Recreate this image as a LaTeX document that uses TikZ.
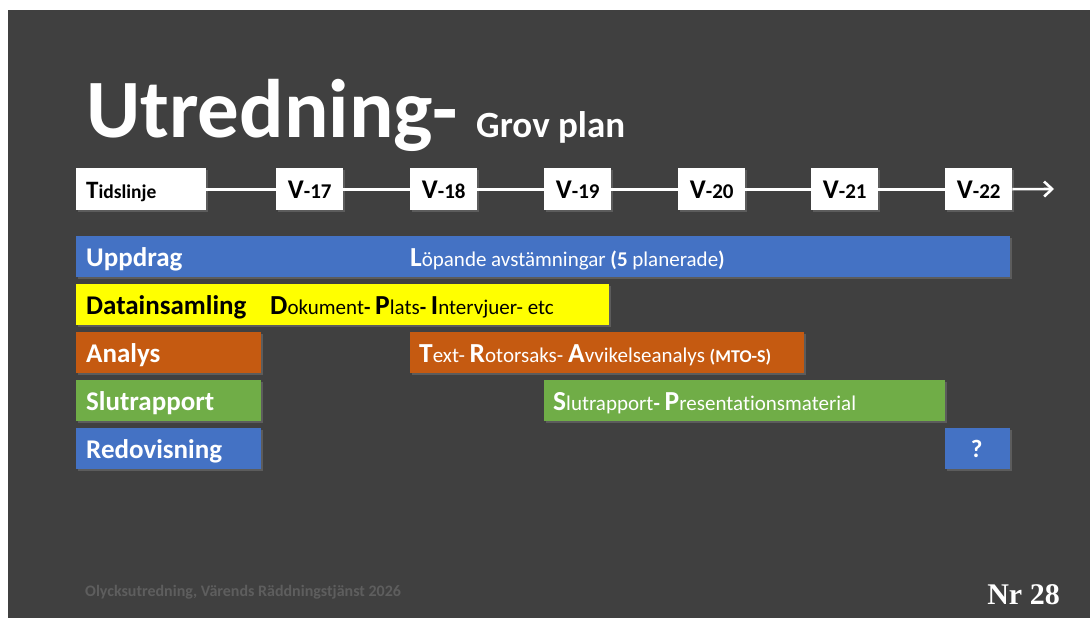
\documentclass[tikz,border=0pt]{standalone}
\usepackage{fontspec}
\setmainfont[Ligatures=NoCommon]{Carlito}
\newfontfamily\nrfont{Liberation Serif}
\usetikzlibrary{arrows.meta,shadows}
\definecolor{bgdark}{HTML}{404040}
\definecolor{barblue}{HTML}{4472C4}
\definecolor{baryellow}{HTML}{FFFF00}
\definecolor{barorange}{HTML}{C55A11}
\definecolor{bargreen}{HTML}{70AD47}
\definecolor{footgray}{HTML}{5E5E5E}
\tikzset{
  bar/.style={draw=none, inner sep=0pt, anchor=north west, minimum height=41pt,
    drop shadow={shadow xshift=1.5pt, shadow yshift=-1.5pt, opacity=0.45}},
  tbox/.style={fill=white, inner sep=0pt, anchor=north west, minimum height=42pt,
    drop shadow={shadow xshift=1.5pt, shadow yshift=-1.5pt, opacity=0.45}},
  lbl/.style={anchor=base west, inner sep=0pt, font=\bfseries\fontsize{27}{30}\selectfont},
  btxt/.style={anchor=base west, inner sep=0pt, font=\fontsize{21}{24}\selectfont},
  tl/.style={white, line width=2.6pt},
}
\newcommand{\bigL}[1]{{\bfseries\fontsize{27.5}{30}\selectfont #1}}
\begin{document}
\begin{tikzpicture}[x=1pt,y=-1pt]
\useasboundingbox (0,0) rectangle (1090,618);
\fill[white] (0,0) rectangle (1090,618);
\fill[bgdark] (8,10) rectangle (1090,618);
% title
\node[anchor=base west, inner sep=0pt, white, font=\bfseries\fontsize{83}{90}\selectfont] (title) at (86,137) {Utredning-};
\node[anchor=base west, inner sep=0pt, white, font=\bfseries\fontsize{37}{42}\selectfont] (sub) at (476,137) {Grov plan};
% timeline boxes
\node[tbox, minimum width=130pt] (tls) at (76,168) {};
\node[anchor=base west, inner sep=0pt, font=\bfseries\fontsize{19.5}{22}\selectfont] (tlt) at (86,198) {{\fontsize{25}{27}\selectfont T}idslinje};
\foreach \n/\x/\w in {17/276/67,18/410/67,19/544/67,20/678/67,21/811/67,22/945/67}{
  \node[tbox, minimum width=\w pt] (v\n) at (\x,168) {};
  \node[font=\bfseries, inner sep=0pt, anchor=base] (v\n t) at ([yshift=-9pt]v\n.center) {{\fontsize{27}{29}\selectfont V}{\fontsize{21}{23}\selectfont -\n}};
}
\coordinate (tend) at (1054,189);
\draw[tl] (tls.east) -- (v17.west);
\draw[tl] (v17.east) -- (v18.west);
\draw[tl] (v18.east) -- (v19.west);
\draw[tl] (v19.east) -- (v20.west);
\draw[tl] (v20.east) -- (v21.west);
\draw[tl] (v21.east) -- (v22.west);
\draw[tl, -{Straight Barb[length=8pt,width=15pt,line width=2.6pt]}] (v22.east) -- (tend);
% bars
\node[bar, fill=barblue, minimum width=934pt] (upp) at (76,236) {};
\node[bar, fill=baryellow, minimum width=533pt] (dat) at (76,284) {};
\node[bar, fill=barorange, minimum width=185pt] (ana) at (76,332) {};
\node[bar, fill=barorange, minimum width=394pt] (anab) at (410,332) {};
\node[bar, fill=bargreen, minimum width=185pt] (slu) at (76,380) {};
\node[bar, fill=bargreen, minimum width=401pt] (slub) at (544,380) {};
\node[bar, fill=barblue, minimum width=185pt] (red) at (76,428) {};
\node[bar, fill=barblue, minimum width=65pt] (redq) at (945,428) {};
% labels
\node[lbl, white] (uppl) at (86,266) {Uppdrag};
\node[lbl, black] (datl) at (86,314) {Datainsamling};
\node[lbl, white] (anal) at (86,362) {Analys};
\node[lbl, white] (slul) at (86,410) {Slutrapport};
\node[lbl, white] (redl) at (86,458) {Redovisning};
\node[white, inner sep=0pt, font=\bfseries\fontsize{25}{28}\selectfont] (redqt) at ([xshift=-1pt]redq.center) {?};
% bar texts
\node[btxt, white] (uppt) at (410,266) {\bigL{L}öpande avstämningar \textbf{(5} planerade\textbf{)}};
\node[btxt, black] (datt) at (270,314) {\bigL{D}okument\textbf{-} \bigL{P}lats\textbf{-} \bigL{I}ntervjuer- etc};
\node[btxt, white] (anat) at (419,362) {\bigL{T}ext- \bigL{R}otorsaks- \bigL{A}vvikelseanalys {\bfseries\fontsize{18}{20}\selectfont(MTO-S)}};
\node[btxt, white] (slut) at (553,410) {\bigL{S}lutrapport\textbf{-} \bigL{P}resentationsmaterial};
% footer
\node[anchor=base west, inner sep=0pt, footgray, font=\bfseries\fontsize{16}{19}\selectfont] (foot) at (85,596) {Olycksutredning, Värends Räddningstjänst 2026};
\node[anchor=base east, inner sep=0pt, white, font=\nrfont\bfseries\fontsize{30}{34}\selectfont] (nr) at (1060,604) {Nr 28};
\end{tikzpicture}
\end{document}
